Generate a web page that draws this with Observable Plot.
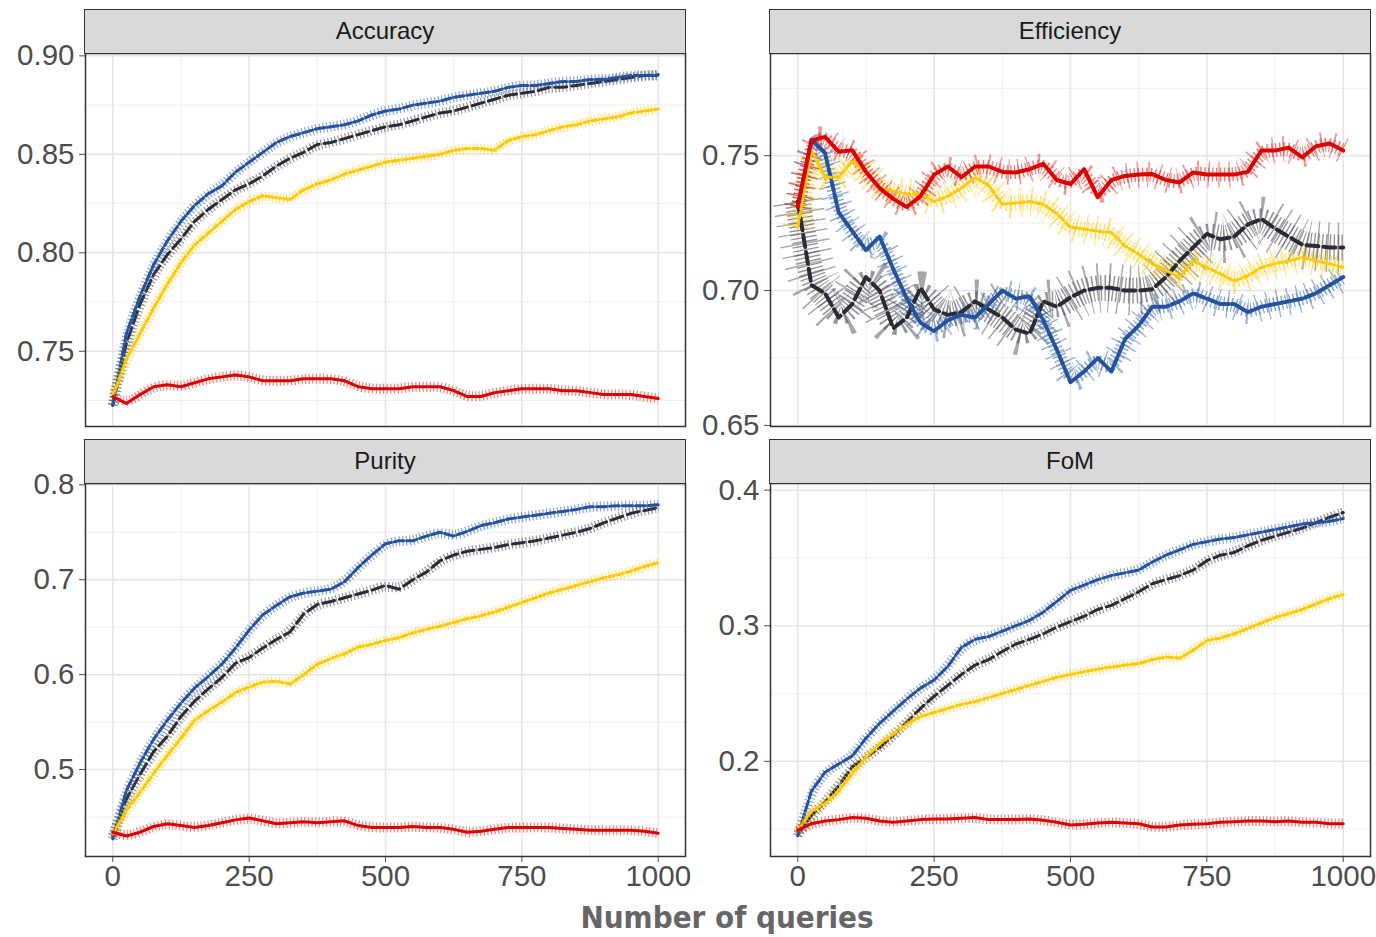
<!DOCTYPE html>
<html><head><meta charset="utf-8">
<script src="https://cdn.jsdelivr.net/npm/d3@7"></script>
<script src="https://cdn.jsdelivr.net/npm/@observablehq/plot@0.6"></script>
<style>
body{margin:0;background:#fff;}
#root{position:relative;width:1376px;height:937px;overflow:hidden;background:#fff;font-family:"Liberation Sans",Arial,sans-serif;}
.strip{position:absolute;background:#d9d9d9;border:1.5px solid #333;box-sizing:border-box;text-align:center;font-size:24px;color:#1a1a1a;line-height:42px;}
.panel{position:absolute;}
.xtitle{position:absolute;left:427px;width:600px;top:899px;line-height:36px;text-align:center;font-family:"DejaVu Sans",sans-serif;font-stretch:condensed;font-weight:bold;font-size:31px;color:#666;}
</style></head>
<body><div id="root"></div>
<script>
const queries = [0,25,50,75,100,125,150,175,200,225,250,275,300,325,350,375,400,425,450,475,500,525,550,575,600,625,650,675,700,725,750,775,800,825,850,875,900,925,950,975,1000];
const xTicks = [0,250,500,750,1000];
const xMinor = [125,375,625,875];
const seriesNames = ["black","blue","yellow","red"];

// Accuracy
const accBlue = [.7226,.759,.778,.794,.806,.816,.824,.830,.834,.841,.846,.851,.856,.859,.861,.863,.864,.865,.867,.870,.872,.873,.875,.876,.877,.879,.880,.881,.882,.884,.885,.885,.886,.887,.887,.888,.888,.889,.890,.890,.890];
const accBlack = [.7226,.754,.774,.789,.799,.807,.816,.822,.827,.832,.835,.839,.844,.848,.851,.855,.856,.858,.860,.862,.864,.865,.867,.869,.871,.872,.874,.876,.878,.880,.881,.882,.884,.884,.885,.886,.887,.888,.889,.890,.8904];
const accYellow = [.727,.746,.759,.772,.784,.795,.804,.810,.816,.822,.826,.829,.828,.827,.832,.835,.837,.840,.842,.844,.846,.847,.848,.849,.850,.852,.853,.853,.852,.857,.859,.860,.862,.864,.865,.867,.868,.869,.871,.872,.873];
const accRed = [.727,.7235,.728,.732,.733,.732,.734,.736,.737,.738,.737,.735,.735,.735,.736,.736,.736,.735,.732,.731,.731,.731,.732,.732,.732,.730,.727,.727,.729,.730,.731,.731,.731,.730,.730,.729,.728,.728,.728,.727,.726];

// Efficiency
const effBlue = [.731,.756,.751,.729,.722,.715,.720,.708,.697,.688,.685,.689,.691,.690,.695,.700,.697,.698,.689,.678,.666,.670,.675,.670,.682,.687,.694,.694,.696,.699,.697,.695,.695,.692,.694,.695,.696,.697,.699,.702,.705];
const effBlack = [.733,.702,.699,.690,.695,.705,.700,.686,.690,.701,.693,.691,.692,.696,.693,.690,.6855,.684,.696,.694,.6975,.700,.701,.701,.700,.700,.7005,.705,.711,.716,.721,.719,.720,.7245,.7265,.723,.720,.717,.7165,.716,.716];
const effYellow = [.7235,.752,.742,.742,.748,.744,.738,.737,.7358,.7358,.733,.735,.738,.742,.739,.732,.7325,.733,.732,.7285,.7235,.7228,.722,.7215,.7165,.7135,.7099,.7075,.705,.711,.7085,.7062,.7035,.7055,.7086,.71,.711,.7123,.711,.7099,.7086];
const effRed = [.731,.7556,.757,.7515,.752,.744,.738,.734,.731,.735,.743,.746,.742,.746,.746,.744,.7438,.745,.747,.741,.7395,.745,.7346,.741,.7425,.743,.7432,.741,.7401,.7438,.743,.743,.743,.744,.7519,.7519,.753,.7494,.7535,.7545,.7519];

// Purity
const purBlue = [.427,.478,.507,.532,.552,.570,.586,.598,.611,.628,.647,.663,.673,.682,.686,.688,.690,.698,.713,.726,.738,.741,.741,.746,.750,.746,.751,.757,.760,.764,.766,.768,.770,.772,.774,.777,.777,.778,.778,.778,.779];
const purBlack = [.430,.469,.495,.519,.535,.556,.572,.585,.597,.612,.618,.628,.637,.645,.664,.674,.677,.681,.685,.689,.694,.690,.700,.708,.720,.726,.730,.732,.734,.737,.739,.741,.744,.747,.750,.754,.760,.765,.770,.773,.776];
const purYellow = [.432,.457,.476,.496,.515,.533,.552,.562,.571,.581,.587,.592,.593,.590,.600,.611,.617,.622,.629,.632,.636,.639,.644,.648,.651,.655,.659,.662,.666,.671,.676,.681,.686,.690,.694,.698,.702,.705,.709,.714,.718];
const purRed = [.434,.430,.434,.440,.443,.441,.439,.441,.444,.447,.449,.446,.443,.444,.445,.444,.445,.446,.441,.439,.439,.439,.440,.439,.439,.437,.434,.435,.437,.439,.439,.439,.439,.438,.437,.436,.436,.436,.436,.435,.433];

// FoM
const fomBlue = [.145,.178,.192,.198,.204,.217,.228,.237,.246,.254,.260,.270,.284,.290,.292,.296,.300,.304,.310,.318,.326,.330,.334,.337,.339,.341,.347,.352,.356,.360,.362,.364,.365,.367,.369,.371,.373,.375,.376,.377,.379];
const fomBlack = [.146,.160,.170,.182,.196,.203,.210,.219,.229,.239,.248,.256,.264,.271,.275,.281,.2865,.290,.294,.299,.303,.307,.312,.315,.320,.325,.331,.334,.337,.341,.348,.352,.354,.359,.363,.366,.369,.372,.376,.380,.3835];
const fomYellow = [.149,.163,.169,.178,.191,.203,.213,.220,.2275,.233,.236,.239,.242,.244,.247,.250,.253,.256,.259,.262,.264,.266,.268,.2695,.271,.272,.275,.277,.276,.282,.289,.291,.294,.298,.302,.306,.309,.312,.316,.320,.323];
const fomRed = [.149,.154,.156,.157,.1585,.158,.156,.155,.156,.157,.1575,.1575,.158,.1585,.157,.157,.157,.1575,.1565,.155,.153,.1535,.1545,.155,.1545,.154,.1515,.1515,.153,.1535,.154,.155,.1555,.156,.156,.1555,.156,.155,.155,.154,.154];

const style = {
  blue:  {color:"#24529c", noise:"#3d6bb0", dash:"10,3"},
  black: {color:"#2b2b35", noise:"#4f4f57", dash:"12,5"},
  yellow:{color:"#ffc900", noise:"#ffcc10", dash:"6,3"},
  red:   {color:"#dd0000", noise:"#e22a2a", dash:null}
};

const panels = [
  {title:"Accuracy", series:{black:accBlack,blue:accBlue,yellow:accYellow,red:accRed},
   yDomain:[0.7118,0.9012], yTicks:[0.75,0.80,0.85,0.90], yMinor:[0.725,0.775,0.825,0.875], fmt:".2f",
   left:0, top:38, mL:85, mR:6, bottomAxis:false, noisy:false},
  {title:"Efficiency", series:{black:effBlack,blue:effBlue,yellow:effYellow,red:effRed},
   yDomain:[0.6496,0.7879], yTicks:[0.65,0.70,0.75], yMinor:[0.675,0.725,0.775], fmt:".2f",
   left:690, top:38, mL:80, mR:6, bottomAxis:false, noisy:true},
  {title:"Purity", series:{black:purBlack,blue:purBlue,yellow:purYellow,red:purRed},
   yDomain:[0.4084,0.8014], yTicks:[0.5,0.6,0.7,0.8], yMinor:[0.45,0.55,0.65,0.75], fmt:".1f",
   left:0, top:468, mL:85, mR:6, bottomAxis:true, noisy:false},
  {title:"FoM", series:{black:fomBlack,blue:fomBlue,yellow:fomYellow,red:fomRed},
   yDomain:[0.1298,0.4049], yTicks:[0.2,0.3,0.4], yMinor:[0.15,0.25,0.35], fmt:".1f",
   left:690, top:468, mL:80, mR:6, bottomAxis:true, noisy:false}
];

const noiseWidths = {black:[26,50], blue:[14,28], yellow:[16,30], red:[14,26]};
const smoothWidths = {black:4, blue:4, yellow:3, red:4};

const root = document.getElementById("root");
const PW = 600, PH = 373, MT = 15;

for (const p of panels) {
  const mB = p.bottomAxis ? 50 : 15;
  const rows = {};
  for (const s of seriesNames) rows[s] = queries.map((q,i)=>({q, v:p.series[s][i]}));
  const marks = [
    Plot.ruleX(xMinor, {stroke:"#ebebeb", strokeWidth:0.8}),
    Plot.ruleY(p.yMinor, {stroke:"#ebebeb", strokeWidth:0.8}),
    Plot.ruleX(xTicks, {stroke:"#e6e6e6", strokeWidth:1.5}),
    Plot.ruleY(p.yTicks, {stroke:"#e6e6e6", strokeWidth:1.5}),
  ];
  if (p.noisy) {
    for (const s of seriesNames) {
      const [w1,w2] = noiseWidths[s];
      marks.push(Plot.line(rows[s], {x:"q", y:"v", stroke:style[s].noise, strokeWidth:w2, strokeOpacity:0.5, strokeDasharray:"1.4,9", strokeLinecap:"butt", curve:"basis"}));
      marks.push(Plot.line(rows[s], {x:"q", y:"v", stroke:style[s].noise, strokeWidth:w1, strokeOpacity:0.6, strokeDasharray:"1.4,2.6", strokeLinecap:"butt", curve:"basis"}));
    }
    for (const s of seriesNames) {
      marks.push(Plot.line(rows[s], {x:"q", y:"v", stroke:style[s].color, strokeWidth:smoothWidths[s], strokeDasharray:style[s].dash || undefined}));
    }
  } else {
    for (const s of seriesNames) {
      marks.push(Plot.line(rows[s], {x:"q", y:"v", stroke:style[s].noise, strokeWidth:10, strokeOpacity:0.6, strokeDasharray:"1.2,2.4", strokeLinecap:"butt", curve:"basis"}));
      marks.push(Plot.line(rows[s], {x:"q", y:"v", stroke:style[s].color, strokeWidth:3, strokeDasharray:style[s].dash || undefined}));
    }
  }
  marks.push(Plot.frame({stroke:"#333", strokeWidth:1.5}));

  const chart = Plot.plot({
    width: p.mL + PW + p.mR,
    height: MT + PH + mB,
    marginLeft: p.mL, marginRight: p.mR, marginTop: MT, marginBottom: mB,
    style: {fontSize:"29.5px", fontFamily:"'Liberation Sans', Arial, sans-serif", color:"#4d4d4d", background:"transparent", overflow:"visible"},
    x: {domain:[-50,1050], ticks:xTicks, tickFormat:d3.format("d"), label:null, axis: p.bottomAxis ? "bottom" : null, tickSize:6, tickPadding:3},
    y: {domain:p.yDomain, ticks:p.yTicks, tickFormat:d3.format(p.fmt), label:null, tickSize:6, tickPadding:5},
    marks
  });
  const holder = document.createElement("div");
  holder.className = "panel";
  holder.style.left = p.left + "px";
  holder.style.top = p.top + "px";
  holder.appendChild(chart);
  root.appendChild(holder);

  const strip = document.createElement("div");
  strip.className = "strip";
  strip.style.left = (p.left + p.mL - 0.75) + "px";
  strip.style.top = (p.top + MT - 44) + "px";
  strip.style.width = (PW + 1.5) + "px";
  strip.style.height = "45px";
  strip.textContent = p.title;
  root.appendChild(strip);
}

const t = document.createElement("div");
t.className = "xtitle";
t.textContent = "Number of queries";
root.appendChild(t);
</script>
</body></html>
